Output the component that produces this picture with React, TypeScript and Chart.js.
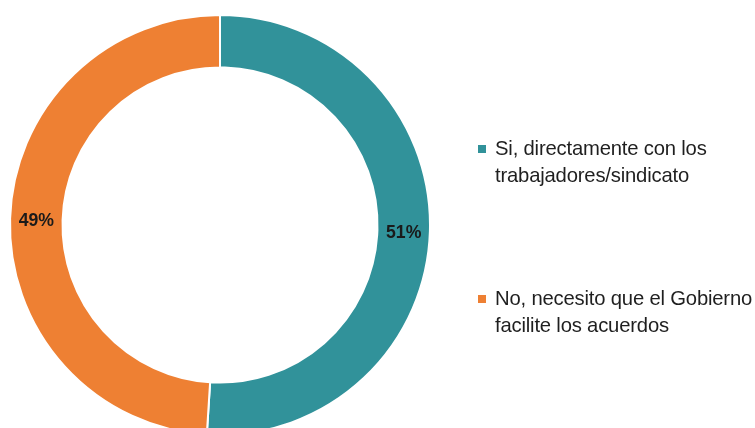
import React, { useEffect, useRef } from "react";
import { Chart, registerables } from "chart.js";

Chart.register(...registerables);

const categories: string[][] = [
  ["Si, directamente con los", "trabajadores/sindicato"],
  ["No, necesito que el Gobierno", "facilite los acuerdos"],
];
const values: number[] = [51, 49];
const colors: string[] = ["#31929A", "#EE8033"];

const W = 755;
const H = 440;

function scaledText(ctx: any, text: string, x: number, y: number, sx: number) {
  ctx.save();
  ctx.translate(x, y);
  ctx.scale(sx, 1);
  ctx.fillText(text, 0, 0);
  ctx.restore();
}

const labelsPlugin = {
  id: "sliceLabels",
  afterDatasetsDraw(chart: any) {
    const ctx = chart.ctx;
    const meta = chart.getDatasetMeta(0);
    ctx.save();
    ctx.font = "bold 19px 'Liberation Sans', Arial, sans-serif";
    ctx.fillStyle = "#1a1a1a";
    ctx.textAlign = "center";
    ctx.textBaseline = "middle";
    meta.data.forEach((arc: any, i: number) => {
      const p = arc.tooltipPosition();
      scaledText(ctx, values[i] + "%", p.x, p.y + 2, 0.93);
    });
    ctx.restore();
  },
};

const legendPlugin = {
  id: "sideLegend",
  afterDraw(chart: any) {
    const ctx = chart.ctx;
    const labels = chart.data.labels as string[][];
    const ds = chart.data.datasets[0];
    const x0 = 478;
    const tops = [149, 299];
    const lineH = 27;
    ctx.save();
    ctx.font = "21px 'Liberation Sans', Arial, sans-serif";
    (ctx as any).letterSpacing = "-0.2px";
    ctx.textBaseline = "middle";
    ctx.textAlign = "left";
    labels.forEach((lines, i) => {
      const y = tops[i];
      ctx.fillStyle = ds.backgroundColor[i];
      ctx.fillRect(x0, y - 4, 8, 8);
      ctx.fillStyle = "#1f1f1f";
      lines.forEach((ln, j) => {
        scaledText(ctx, ln, x0 + 17, y + j * lineH, 0.965);
      });
    });
    ctx.restore();
  },
};

export default function App() {
  const ref = useRef<HTMLCanvasElement | null>(null);
  useEffect(() => {
    if (!ref.current) return;
    const chart = new Chart(ref.current, {
      type: "doughnut",
      data: {
        labels: categories,
        datasets: [
          {
            data: values,
            backgroundColor: colors,
            borderColor: "#ffffff",
            borderWidth: 2,
          },
        ],
      },
      options: {
        responsive: false,
        animation: false,
        cutout: "75%",
        layout: { padding: { left: 9, top: 14, right: W - 431, bottom: H - 436 } },
        plugins: {
          legend: { display: false },
          tooltip: { enabled: false },
        },
      },
      plugins: [labelsPlugin, legendPlugin],
    });
    return () => chart.destroy();
  }, []);
  return (
    <div
      style={{
        position: "fixed",
        left: 0,
        top: 0,
        width: W,
        height: 428,
        overflow: "hidden",
        background: "#ffffff",
      }}
    >
      <canvas
        ref={ref}
        width={W}
        height={H}
        style={{ position: "absolute", left: 0, top: 0, width: W, height: H }}
      />
    </div>
  );
}
